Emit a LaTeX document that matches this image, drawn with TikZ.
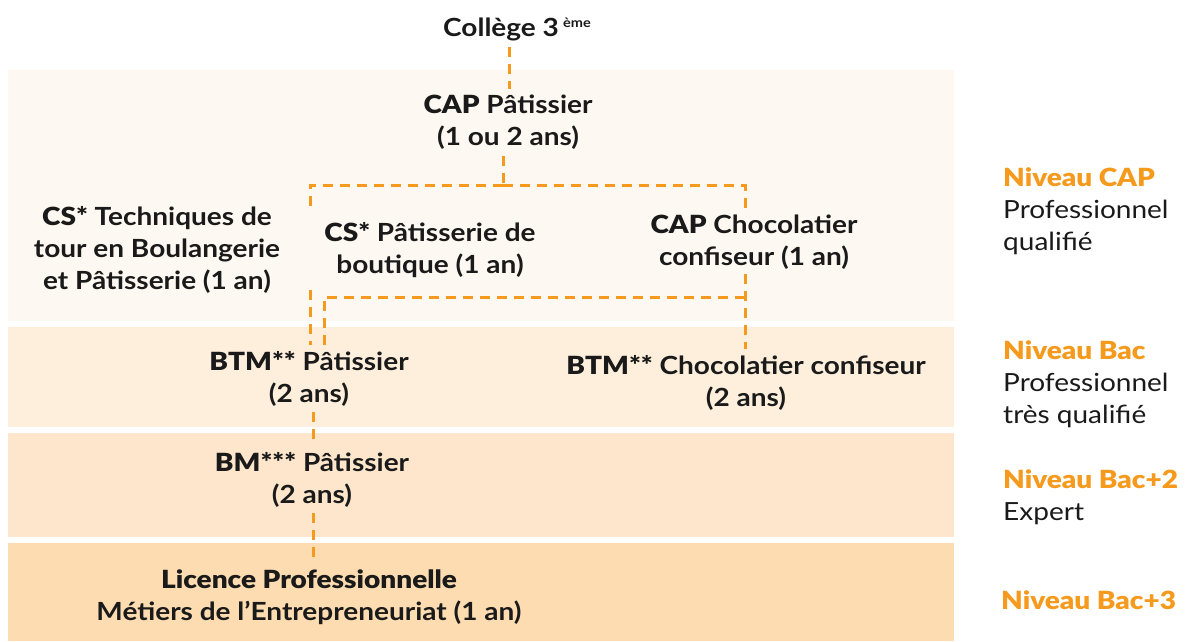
\documentclass[tikz,border=0pt]{standalone}
\usepackage{fontspec}
\setmainfont{Lato}[UprightFont={* Bold}, BoldFont={* Black}, FakeStretch=1.12]
\newfontface\regf{Lato}[FakeStretch=1.12]
\usetikzlibrary{calc}
\definecolor{orng}{HTML}{F59A1C}
\definecolor{txt}{HTML}{1A1A1A}
\definecolor{bandA}{HTML}{FDF8F1}
\definecolor{bandB}{HTML}{FEEFDD}
\definecolor{bandC}{HTML}{FDE6CC}
\definecolor{bandD}{HTML}{FCDCB0}
\newcommand\Hv[1]{\textbf{#1}}
\tikzset{
  lbl/.style={align=center, text=txt, inner xsep=2pt, inner ysep=6pt, yshift=-2.5pt, font=\fontsize{25}{32}\selectfont},
  lvl/.style={align=left, anchor=west, text=txt, inner sep=0pt, yshift=-2pt, font=\fontsize{25}{32}\selectfont},
  conn/.style={draw=orng, line width=3pt, dash pattern=on 10pt off 7pt},
  band/.style={draw=none}
}
\begin{document}
\begin{tikzpicture}[x=1pt,y=-1pt]
\useasboundingbox (0,0) rectangle (1186,641);
\fill[white] (0,0) rectangle (1186,641);
% bands
\fill[bandA] (8,70) rectangle (954,321);
\fill[bandB] (8,327) rectangle (954,427);
\fill[bandC] (8,433) rectangle (954,537);
\fill[bandD] (8,543) rectangle (954,641);
% nodes
\node[lbl] (college) at (517,27) {Collège 3\,{\fontsize{13}{13}\selectfont\raisebox{9pt}{ème}}};
\node[lbl] (cap) at (508,120) {\Hv{CAP} Pâtissier\\(1 ou 2 ans)};
\node[lbl] (csTour) at (157,247) {\Hv{CS*} Techniques de\\tour en Boulangerie\\et Pâtisserie (1 an)};
\node[lbl, inner ysep=12pt] (csBout) at (430,248) {\Hv{CS*} Pâtisserie de\\boutique (1 an)};
\node[lbl, inner ysep=4pt] (capChoc) at (754,240) {\Hv{CAP} Chocolatier\\confiseur (1 an)};
\node[lbl] (btmPat) at (309,376) {\Hv{BTM**} Pâtissier\\(2 ans)};
\node[lbl] (btmChoc) at (746,380) {\Hv{BTM**} Chocolatier confiseur\\(2 ans)};
\node[lbl] (bm) at (312,477) {\Hv{BM***} Pâtissier\\(2 ans)};
\node[lbl] (lic) at (309,595) {\Hv{Licence Professionnelle}\\Métiers de l’Entrepreneuriat (1 an)};
% level labels
\node[lvl] (nCap) at (1003,209) {\textcolor{orng}{\textbf{Niveau CAP}}\\{\regf Professionnel}\\{\regf qualifié}};
\node[lvl] (nBac) at (1003,382) {\textcolor{orng}{\textbf{Niveau Bac}}\\{\regf Professionnel}\\{\regf très qualifié}};
\node[lvl] (nBac2) at (1003,495) {\textcolor{orng}{\textbf{Niveau Bac+2}}\\{\regf Expert}};
\node[lvl] (nBac3) at (1001,598) {\textcolor{orng}{\textbf{Niveau Bac+3}}};
% helper coordinates
\coordinate (xC) at (509,0);
\coordinate (fk) at (503,185);
\coordinate (xL) at (310,0);
\coordinate (xR) at (745,0);
\coordinate (xL2) at (313,0);
\coordinate (jn) at (324,297);
% connectors
\draw[conn] (xC |- college.south) -- (xC |- cap.north);
\draw[conn] (cap.south -| fk) -- (fk);
\draw[conn] (fk) -| (xR |- capChoc.north);
\draw[conn] (fk) -| (xL |- csBout.north);
\draw[conn] (xL |- csBout.south) -- (xL |- btmPat.north);
\draw[conn] (xR |- capChoc.south) -- (xR |- btmChoc.north);
\draw[conn] (jn -| xR) -- (jn) -- (jn |- btmPat.north);
\draw[conn] (xL2 |- btmPat.south) -- (xL2 |- bm.north);
\draw[conn] (xL2 |- bm.south) -- (xL2 |- lic.north);
\end{tikzpicture}
\end{document}
